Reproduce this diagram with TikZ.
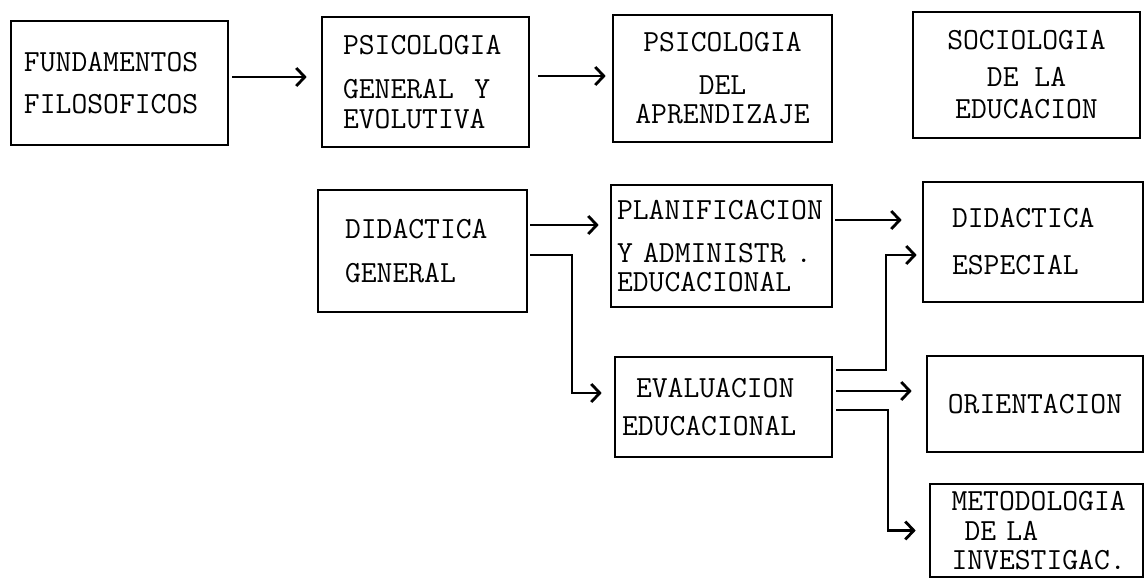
\documentclass[tikz,border=0pt]{standalone}
\usepackage{fontspec}
\usepackage{tikz}
\usetikzlibrary{calc,arrows.meta}

\begin{document}
\begin{tikzpicture}[
		caja/.style={draw, line width=1.5pt, inner sep=0pt, font=\ttfamily\fontsize{17.5}{19}\selectfont},
		flecha/.style={line width=1.2pt, -{Straight Barb[length=0.17cm,width=0.36cm,line width=1.6pt]}}
	]
			%%%%% START %%%%%
			
			\useasboundingbox (0, 0) rectangle (22.92, -11.6);
			
			\node[caja, minimum width=4.34cm, minimum height=2.48cm, text width=3.82cm, align=left] (fund) at (2.39, -1.66) {FUNDAMENTOS\\[4.9pt]FILOSOFICOS};
			\node[caja, minimum width=4.14cm, minimum height=2.60cm, text width=3.30cm, align=left] (psicgen) at (8.51, -1.64) {PSICOLOGIA\\[6pt]GENERAL\ \ Y\\[-2pt]EVOLUTIVA};
			\node[caja, minimum width=4.38cm, minimum height=2.54cm, align=center] (psicapr) at (14.45, -1.57) {PSICOLOGIA\\[5.5pt]DEL\\[-2.5pt]APRENDIZAJE};
			\node[caja, minimum width=4.54cm, minimum height=2.52cm, align=center] (socio) at (20.53, -1.50) {SOCIOLOGIA\\[2.1pt]DE LA\\[-0.8pt]EDUCACION};
			
			\node[caja, minimum width=4.18cm, minimum height=2.44cm, text width=3.10cm, align=left] (didgen) at (8.45, -5.02) {DIDACTICA\\[6pt]GENERAL};
			\node[caja, minimum width=4.42cm, minimum height=2.44cm, text width=4.18cm, align=left] (planif) at (14.43, -4.92) {PLANIFICACION\\[5.5pt]Y ADMINISTR\ .\\[-3pt]EDUCACIONAL};
			\node[caja, minimum width=4.40cm, minimum height=2.40cm, text width=3.24cm, align=left] (didesp) at (20.66, -4.84) {DIDACTICA\\[7.7pt]ESPECIAL};
			
			\node[caja, minimum width=4.34cm, minimum height=2.00cm, text width=4.06cm, align=left] (eval) at (14.47, -8.14) {\hspace*{0.28cm}EVALUACION\\[2.6pt]EDUCACIONAL};
			\node[caja, minimum width=4.32cm, minimum height=1.92cm, align=center] (orient) at (20.70, -8.08) {ORIENTACION};
			\node[caja, minimum width=4.26cm, minimum height=1.86cm, text width=3.40cm, align=left] (metod) at (20.73, -10.61) {METODOLOGIA\\[-1.5pt]\hspace*{0.26cm}DE LA\\[-2.5pt]INVESTIGAC.};
			
			\coordinate (a1s) at ([shift={(0.06, 0.12)}]fund.east);
			\coordinate (a2s) at ([shift={(0.16, 0.12)}]psicgen.east);
			\coordinate (a3s) at ([shift={(0.04, 0.52)}]didgen.east);
			\coordinate (a4s) at ([shift={(0.04, -0.08)}]didgen.east);
			\coordinate (a4e) at ([yshift=0.28cm]eval.west);
			\coordinate (a5s) at ([shift={(0.04, 0.52)}]planif.east);
			\coordinate (a6s) at ([shift={(0.06, 0.74)}]eval.east);
			\coordinate (a6e) at ([yshift=-0.26cm]didesp.west);
			\coordinate (a7s) at ([shift={(0.06, 0.32)}]eval.east);
			\coordinate (a8s) at ([shift={(0.06, -0.06)}]eval.east);
			
			\draw[flecha, shorten >=0.28cm] (a1s) -- (a1s -| psicgen.west);
			\draw[flecha, shorten >=0.12cm] (a2s) -- (a2s -| psicapr.west);
			\draw[flecha, shorten >=0.22cm] (a3s) -- (a3s -| planif.west);
			\draw[flecha, shorten >=0.24cm] (a4s) -- ++(0.84, 0) |- (a4e);
			\draw[flecha, shorten >=0.40cm] (a5s) -- (a5s -| didesp.west);
			\draw[flecha, shorten >=0.10cm] (a6s) -- ++(1.00, 0) |- (a6e);
			\draw[flecha, shorten >=0.28cm] (a7s) -- (a7s -| orient.west);
			\draw[flecha, shorten >=0.26cm] (a8s) -- ++(1.04, 0) |- (metod.west);
			
			%%%%% END %%%%%
		\end{tikzpicture}
\end{document}
